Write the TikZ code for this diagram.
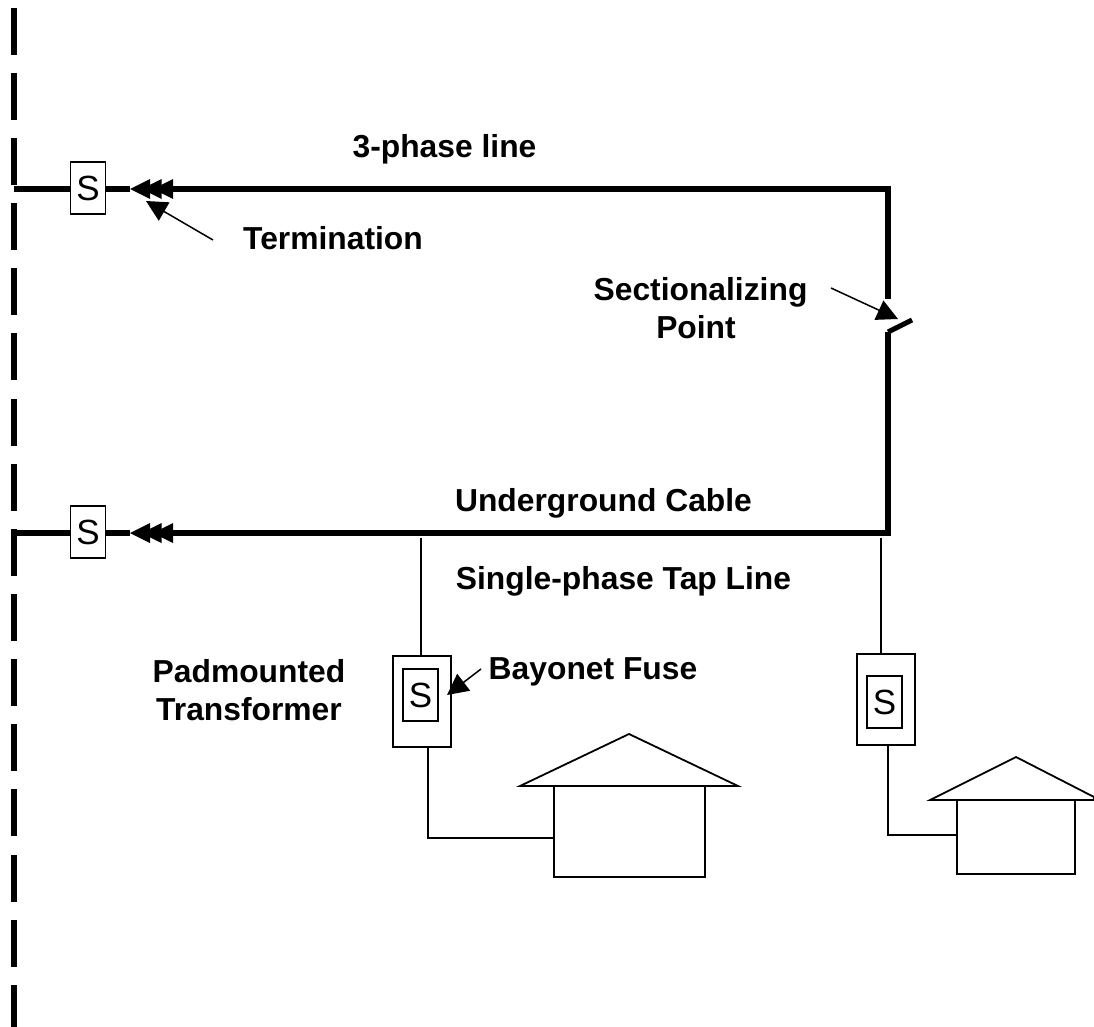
\documentclass[tikz,border=0pt]{standalone}
\usepackage{fontspec}
\setmainfont{Liberation Sans}
\usetikzlibrary{arrows.meta}
\tikzset{
  mainline/.style={line width=6pt},
  thinline/.style={line width=1.8pt},
  sbox/.style={draw,line width=1.4pt,minimum width=35pt,minimum height=52pt,inner sep=0pt,font=\fontsize{35}{35}\selectfont},
  padbox/.style={draw,line width=1.8pt,minimum width=58pt,minimum height=91pt,inner sep=0pt},
  labeltext/.style={font=\fontsize{31.8}{38}\selectfont\bfseries,align=center,inner sep=0pt},
  pointer/.style={line width=1.5pt,-{Triangle[length=21pt,width=21pt]}}
}
\begin{document}
\begin{tikzpicture}[x=1pt,y=-1pt]
  \useasboundingbox (0,0) rectangle (1094,1027);
  % dashed boundary on the left
  \foreach \ytop in {8,73,138,203,268,333,399,464,529,594,659,724,789,855,920,985}
    \draw[mainline] (14,\ytop) -- (14,{\ytop+47});
  % switches
  \node[sbox] (s1) at (88,188) {S};
  \node[sbox] (s2) at (88,532) {S};
  \coordinate (nw) at (888,189);
  \coordinate (sw) at (888,533);
  \coordinate (gapT) at (888,299);
  \coordinate (gapB) at (888,332);
  \coordinate (bladeE) at (912,320);
  \coordinate (w1) at (14,189);
  \coordinate (w2) at (11,533);
  \coordinate (t1) at (130,189);
  \coordinate (t2) at (130,533);
  \coordinate (b1) at (170,189);
  \coordinate (b2) at (170,533);
  % heavy lines
  \draw[mainline] (w1) -- (w1 -| s1.west);
  \draw[mainline] (w2) -- (w2 -| s2.west);
  \draw[mainline] (t1 -| s1.east) -- (t1);
  \draw[mainline] (t2 -| s2.east) -- (t2);
  \draw[mainline] (b1) -- (nw);
  \draw[mainline] (b2) -- (sw);
  \draw[mainline,line cap=rect] (nw) -- (gapT |- 0,296);
  \draw[mainline] (gapT |- 0,296) -- (gapT);
  \draw[mainline,line cap=rect] (gapB |- 0,335) -- (sw);
  \draw[mainline] (gapB) -- (gapB |- 0,335);
  \draw[line width=5pt] (gapB) -- (bladeE);
  % terminations
  \foreach \tip in {t1,t2}
    \foreach \dx in {0,11.5,23}
      \fill (\tip) ++(\dx,0) -- ++(20,-10) -- ++(0,20) -- cycle;
  % transformers
  \node[padbox] (p1) at (422,701.5) {};
  \node[sbox] (f1) at (420.5,695) {S};
  \node[padbox] (p2) at (886,699.5) {};
  \node[sbox] (f2) at (884.5,702) {S};
  \coordinate (tap1) at (421,538);
  \coordinate (tap2) at (881,538);
  \draw[thinline] (tap1) -- (p1.north -| tap1);
  \draw[thinline] (tap2) -- (p2.north -| tap2);
  % first house
  \coordinate (r1) at (520,786);
  \coordinate (r2) at (629,734);
  \coordinate (r3) at (738,786);
  \node[draw,thinline,minimum width=151pt,minimum height=91pt,inner sep=0pt] (h1) at (629.5,831.5) {};
  \draw[thinline] (r1) -- (r2) -- (r3) -- cycle;
  \draw[thinline] (p1.south -| 428,0) |- (h1.west |- 0,838);
  % second house
  \coordinate (q1) at (930,800);
  \coordinate (q2) at (1016,757);
  \coordinate (q3) at (1094,797);
  \node[draw,thinline,minimum width=118pt,minimum height=74pt,inner sep=0pt] (h2) at (1016,837) {};
  \draw[thinline] (q1) -- (q2) -- (q3) -- (1094,800) -- cycle;
  \draw[thinline] (p2.south -| 888,0) |- (h2.west |- 0,835);
  % labels
  \node[labeltext,anchor=base] (phase) at (444.5,158) {3-phase line};
  \node[labeltext,anchor=base] (term) at (333,249.5) {Termination};
  \node[labeltext] (sect) at (700.5,308.5) {Sectionalizing\\\hspace*{-9pt}Point};
  \node[labeltext,anchor=base] (cable) at (603.5,511) {Underground Cable};
  \node[labeltext,anchor=base] (tap) at (623.5,589.5) {Single-phase Tap Line};
  \node[labeltext] (pad) at (249,690.5) {Padmounted\\Transformer};
  \node[labeltext,anchor=base] (fuse) at (593,679) {Bayonet Fuse};
  % pointers
  \coordinate (a1) at (213,240);
  \coordinate (a2) at (831,288);
  \coordinate (a3) at (481,669);
  \draw[pointer] (a1) -- (146,201);
  \draw[pointer] (a2) -- (898,319);
  \draw[pointer] (a3) -- (447,695);
\end{tikzpicture}
\end{document}
